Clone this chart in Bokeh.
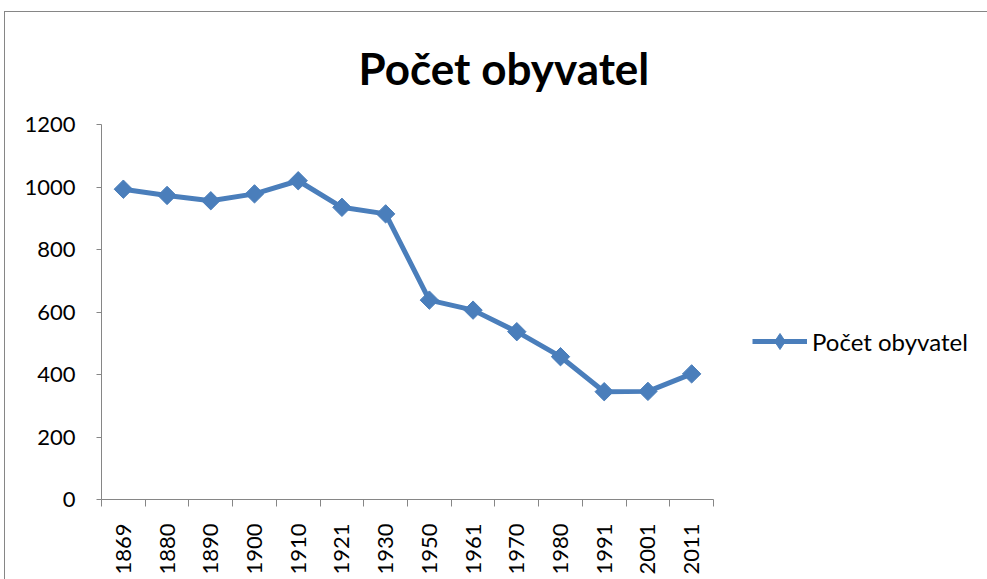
import math
from bokeh.plotting import figure
from bokeh.models import (Range1d, LinearAxis, FixedTicker, Title, Legend, LegendItem)
from bokeh.embed import file_html
from bokeh.resources import INLINE

years = ["1869", "1880", "1890", "1900", "1910", "1921", "1930",
         "1950", "1961", "1970", "1980", "1991", "2001", "2011"]
population = [993, 973, 956, 978, 1020, 935, 914, 638, 606, 537, 457, 345, 346, 402]
y_ticks = [0, 200, 400, 600, 800, 1000, 1200]
series_name = "Počet obyvatel"
title_text = "Počet obyvatel"

BLUE = "#4a7ebb"
GRAY = "#868686"
FONT = "Lato"

idx = list(range(len(years)))

p = figure(frame_width=612, frame_height=375, output_backend="svg", toolbar_location=None,
           x_range=Range1d(-0.5, len(years) - 0.5), y_range=Range1d(y_ticks[0], y_ticks[-1]),
           x_axis_type=None, y_axis_type=None, title=None)
p.min_border_left = 97
p.min_border_right = 274
p.min_border_top = 116
p.min_border_bottom = 80
p.outline_line_color = None
p.background_fill_color = "white"
p.border_fill_color = None
# chart-area frame (top and left edges) drawn behind the transparent canvas border
p.styles = {
    "margin-left": "4px",
    "margin-top": "8px",
    "background": (f"linear-gradient({GRAY}, {GRAY}) 0px 3px / 100% 1px no-repeat, "
                   f"linear-gradient({GRAY}, {GRAY}) 0px 3px / 1px 100% no-repeat, white"),
}

# y axis
yaxis = LinearAxis(ticker=FixedTicker(ticks=y_ticks))
yaxis.axis_line_color = GRAY
yaxis.major_tick_line_color = GRAY
yaxis.major_tick_out = 5
yaxis.major_tick_in = 0
yaxis.minor_tick_line_color = None
yaxis.major_label_standoff = 21
yaxis.major_label_text_font = FONT
yaxis.major_label_text_font_size = "22px"
yaxis.major_label_text_color = "black"
p.add_layout(yaxis, "left")

# x axis: labels at centers, ticks between categories
xaxis = LinearAxis(ticker=FixedTicker(ticks=idx, minor_ticks=[i - 0.5 for i in range(len(years) + 1)]))
xaxis.major_label_overrides = {i: y for i, y in zip(idx, years)}
xaxis.axis_line_color = GRAY
xaxis.major_tick_line_color = None
xaxis.major_tick_out = 0
xaxis.major_tick_in = 0
xaxis.minor_tick_line_color = GRAY
xaxis.minor_tick_out = 7
xaxis.minor_tick_in = 0
xaxis.major_label_orientation = math.pi / 2
xaxis.major_label_standoff = 17
xaxis.major_label_text_font = FONT
xaxis.major_label_text_font_size = "22px"
xaxis.major_label_text_color = "black"
p.add_layout(xaxis, "below")

p.ygrid.grid_line_color = GRAY
p.ygrid.ticker = FixedTicker(ticks=y_ticks)
p.xgrid.grid_line_color = None

line = p.line(idx, population, line_color=BLUE, line_width=5)
marks = p.scatter(idx, population, marker="square", angle=math.pi / 4, size=13,
                  fill_color=BLUE, line_color=BLUE)
# legend-only glyph (diamond shape in the legend swatch)
legend_marks = p.scatter(idx, population, marker="diamond", size=16,
                         fill_color=BLUE, line_color=BLUE, visible=False)

legend = Legend(items=[LegendItem(label=series_name, renderers=[line, legend_marks])],
                location=(39, 138), orientation="vertical")
legend.padding = 0
legend.margin = 0
legend.border_line_color = None
legend.background_fill_alpha = 0
legend.glyph_width = 55
legend.glyph_height = 40
legend.label_standoff = 5
legend.label_height = 40
legend.label_text_font = FONT
legend.label_text_font_size = "24px"
legend.label_text_color = "black"
legend.label_text_baseline = "middle"
p.add_layout(legend, "right")

title = Title(text=title_text, align="left", offset=257, standoff=61,
              text_font=FONT, text_font_style="bold", text_font_size="44px",
              text_color="black")
p.add_layout(title, "above")

open("out.html", "w").write(file_html(p, INLINE))
